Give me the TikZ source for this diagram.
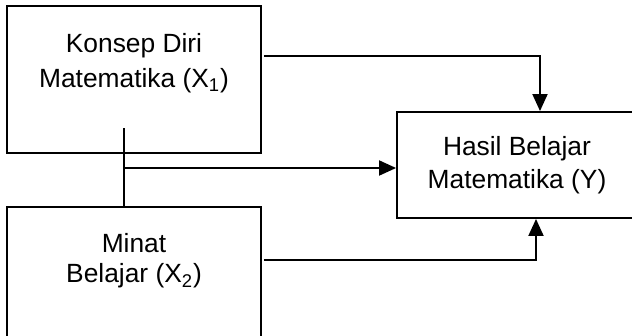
\documentclass[tikz,border=0pt]{standalone}
\usepackage{fontspec}
\setmainfont{Liberation Sans}
\usetikzlibrary{arrows.meta, calc, positioning}

\begin{document}
\begin{tikzpicture}[x=0.02cm, y=-0.02cm, line width=1.1pt,
  kotak/.style={draw, inner sep=0pt, minimum width=5.08cm, minimum height=2.94cm},
  teks/.style={align=center, inner sep=0pt, font=\fontsize{15}{20}\selectfont},
  panah/.style={-{Triangle[length=0.34cm, width=0.3cm]}}]
\useasboundingbox (0,0) rectangle (632,335);
\clip (0,0) rectangle (632,335);

\node [kotak] (x1) at (134,79.5) {};
\node [kotak] (x2) at (134,280.5) {};
\node [kotak, teks, minimum width=4.8cm, minimum height=2.12cm] (y) at (517,165) {Hasil Belajar\\[-1pt]Matematika (Y)};

\node [teks, below=0.54cm of x1.north] (tx1) {Konsep Diri\\Matematika (X\textsubscript{1})};
\node [teks, below=0.52cm of x2.north] (tx2) {Minat\\[-2.5pt]Belajar (X\textsubscript{2})};

\coordinate (cabang) at (124,128);
\coordinate (temu) at (124,168);

\draw [panah] ($(x1.east)+(2,-23.5)$) -| ($(y.north)+(23,0)$);
\draw (cabang) -- (cabang |- x2.north);
\draw [panah] (temu) -- (temu -| y.west);
\draw [panah] ($(x2.east)+(2,-20.5)$) -| ($(y.south)+(19,0)$);
\end{tikzpicture}
\end{document}
